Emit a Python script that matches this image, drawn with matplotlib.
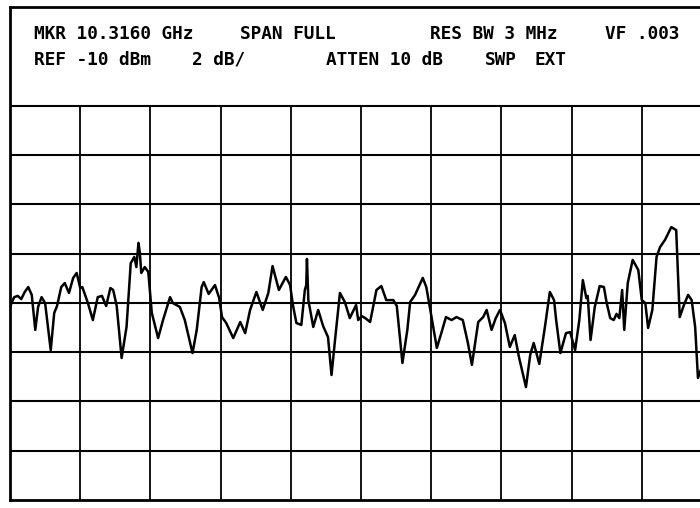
import matplotlib
matplotlib.use("Agg")
import matplotlib.pyplot as plt

# spectrum analyzer trace, x in graticule divisions, level in dBm
trace_div = [0.01, 0.06, 0.11, 0.16, 0.21, 0.26, 0.31, 0.36, 0.40, 0.45,
             0.50, 0.58, 0.63, 0.67, 0.73, 0.78, 0.84, 0.90, 0.95, 1.00,
             1.03, 1.11, 1.18, 1.25, 1.31, 1.37, 1.43, 1.47, 1.52, 1.59,
             1.66, 1.72, 1.77, 1.80, 1.83, 1.85, 1.87, 1.92, 1.97, 2.02,
             2.11, 2.18, 2.28, 2.32, 2.42, 2.49, 2.60, 2.66, 2.73, 2.76,
             2.83, 2.92, 2.98, 3.02, 3.08, 3.18, 3.28, 3.35, 3.42, 3.51,
             3.60, 3.68, 3.74, 3.83, 3.93, 3.99, 4.03, 4.08, 4.15, 4.20,
             4.22, 4.23, 4.25, 4.32, 4.39, 4.46, 4.53, 4.58, 4.63, 4.70,
             4.77, 4.84, 4.93, 4.96, 5.01, 5.06, 5.13, 5.22, 5.29, 5.36,
             5.46, 5.51, 5.59, 5.66, 5.70, 5.77, 5.88, 5.93, 5.98, 6.08,
             6.14, 6.21, 6.29, 6.36, 6.45, 6.52, 6.58, 6.67, 6.74, 6.79,
             6.86, 6.92, 6.98, 7.05, 7.12, 7.19, 7.25, 7.35, 7.41, 7.46,
             7.54, 7.62, 7.69, 7.75, 7.78, 7.84, 7.92, 7.98, 8.05, 8.11,
             8.16, 8.21, 8.23, 8.27, 8.33, 8.40, 8.46, 8.50, 8.55, 8.60,
             8.64, 8.68, 8.72, 8.75, 8.80, 8.87, 8.95, 9.00, 9.05, 9.09,
             9.15, 9.21, 9.26, 9.33, 9.42, 9.49, 9.54, 9.60, 9.66, 9.71,
             9.76, 9.80, 9.84]
trace_dbm = [-22.09, -21.77, -21.72, -21.85, -21.56, -21.36, -21.68, -23.10, -22.17, -21.77,
             -22.01, -23.92, -22.41, -22.13, -21.36, -21.20, -21.60, -20.99, -20.79, -21.40,
             -21.36, -22.01, -22.70, -21.77, -21.72, -22.13, -21.40, -21.48, -22.13, -24.24,
             -22.98, -20.39, -20.14, -20.55, -19.57, -19.98, -20.79, -20.55, -20.75, -22.41,
             -23.43, -22.70, -21.77, -22.01, -22.17, -22.70, -24.04, -23.10, -21.36, -21.16,
             -21.64, -21.28, -21.81, -22.58, -22.82, -23.43, -22.78, -23.23, -22.29, -21.56,
             -22.29, -21.60, -20.51, -21.48, -20.95, -21.28, -22.09, -22.82, -22.90, -21.48,
             -21.28, -20.22, -21.89, -22.98, -22.29, -22.94, -23.39, -24.93, -23.51, -21.60,
             -21.97, -22.62, -22.09, -22.70, -22.54, -22.62, -22.78, -21.48, -21.32, -21.89,
             -21.89, -22.13, -24.44, -23.10, -21.97, -21.68, -20.99, -21.36, -22.17, -23.83,
             -23.27, -22.58, -22.70, -22.58, -22.70, -23.59, -24.52, -22.78, -22.58, -22.29,
             -23.10, -22.62, -22.29, -22.82, -23.79, -23.31, -24.20, -25.42, -24.12, -23.63,
             -24.48, -22.98, -21.56, -21.89, -22.70, -24.04, -23.23, -23.19, -23.92, -22.70,
             -21.08, -21.81, -21.72, -23.51, -22.17, -21.32, -21.36, -22.01, -22.62, -22.70,
             -22.45, -22.62, -21.48, -23.10, -21.20, -20.26, -20.67, -21.89, -22.01, -23.02,
             -22.29, -20.14, -19.74, -19.45, -18.93, -19.05, -22.58, -22.09, -21.68, -21.89,
             -22.98, -25.05, -24.73]

ref_level = -10
db_per_div = 2
n_div_x = 10
n_div_y = 10
grid_rows = 8  # lower part of the screen carries the graticule

header_row1 = [("MKR 10.3160 GHz", 34), ("SPAN FULL", 240), ("RES BW 3 MHz", 430), ("VF .003", 605)]
header_row2 = [("REF -10 dBm", 34), ("2 dB/", 192), ("ATTEN 10 dB", 326), ("SWP", 485), ("EXT", 535)]

W, H = 700, 508
fig = plt.figure(figsize=(W / 100, H / 100), dpi=100)
ax = fig.add_axes([10 / W, 8 / H, 702 / W, 493 / H])

bottom = ref_level - n_div_y * db_per_div
ax.set_xlim(0, n_div_x)
ax.set_ylim(bottom, ref_level)

grid_top = bottom + grid_rows * db_per_div
for k in range(1, grid_rows + 1):
    ax.axhline(bottom + k * db_per_div, color="black", lw=1.5, zorder=1)
ax.vlines(range(1, n_div_x), bottom, grid_top, color="black", lw=1.3, zorder=1)

ax.plot(trace_div, trace_dbm, color="black", lw=1.8, solid_joinstyle="round", zorder=3)

ax.set_xticks([])
ax.set_yticks([])
for side in ["left", "top", "bottom"]:
    ax.spines[side].set_linewidth(2)
ax.spines["right"].set_visible(False)

for txt, x in header_row1:
    fig.text(x / W, 1 - 39 / H, txt, fontsize=12.8, family="DejaVu Sans Mono",
             weight="bold", va="baseline")
for txt, x in header_row2:
    fig.text(x / W, 1 - 65 / H, txt, fontsize=12.8, family="DejaVu Sans Mono",
             weight="bold", va="baseline")

fig.savefig("out.png", dpi=100, facecolor="white")
